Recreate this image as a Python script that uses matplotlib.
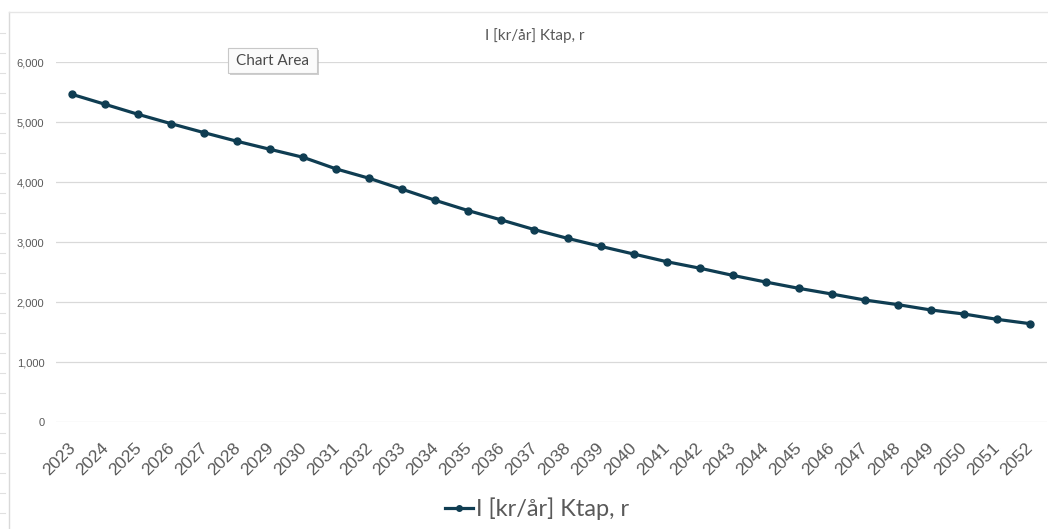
import matplotlib
matplotlib.use("Agg")
import matplotlib.pyplot as plt
import matplotlib.transforms as mtransforms
from matplotlib.patches import Rectangle
from matplotlib.lines import Line2D

years = [str(y) for y in range(2023, 2053)]
values = [5461, 5295, 5128, 4972, 4822, 4678, 4544, 4411, 4217, 4061,
          3878, 3694, 3522, 3367, 3206, 3061, 2928, 2800, 2672, 2564,
          2444, 2333, 2228, 2133, 2033, 1956, 1867, 1800, 1711, 1639]
series_name = "I [kr/år] Ktap, r"
yticks = [0, 1000, 2000, 3000, 4000, 5000, 6000]

W, H = 1048, 529
fig = plt.figure(figsize=(W / 100, H / 100), dpi=100)
fig.patch.set_facecolor("white")

# frame lines (sheet edges)
fig.add_artist(Line2D([9 / W, 9 / W], [0, 1 - 12 / H], transform=fig.transFigure,
                      color="#d9d9d9", lw=1))
fig.add_artist(Line2D([9 / W, 1], [1 - 12 / H, 1 - 12 / H], transform=fig.transFigure,
                      color="#e6e6e6", lw=1))
for yy in range(33, 529, 20):
    fig.add_artist(Line2D([0, 5 / W], [1 - yy / H, 1 - yy / H], transform=fig.transFigure,
                          color="#e0e0e0", lw=0.8))

left, right, top, bottom = 55.5, 1046.5, 62, 422
ax = fig.add_axes([left / W, 1 - bottom / H, (right - left) / W, (bottom - top) / H])
x = list(range(len(years)))
color = "#0f3d52"
ax.plot(x, values, color=color, lw=2.3, marker="o", markersize=5, label=series_name,
        solid_capstyle="round", zorder=3)
ax.set_xlim(-0.5, len(years) - 0.5)
ax.set_ylim(0, 6000)
ax.set_yticks(yticks)
ax.set_yticklabels([f"{v:,}" for v in yticks])
ax.set_xticks(x)
ax.set_xticklabels(years)
ax.tick_params(axis="both", length=0)
ax.tick_params(axis="y", pad=8)
for lbl in ax.get_yticklabels():
    lbl.set_fontsize(8)
    lbl.set_color("#595959")
    lbl.set_family("Liberation Sans")
offset = mtransforms.ScaledTranslation(6 / 100, -13 / 100, fig.dpi_scale_trans)
for lbl in ax.get_xticklabels():
    lbl.set_fontsize(12.5)
    lbl.set_color("#595959")
    lbl.set_family("Liberation Sans")
    lbl.set_rotation(45)
    lbl.set_ha("right")
    lbl.set_va("top")
    lbl.set_transform(lbl.get_transform() + offset)
ax.grid(axis="y", color="#d9d9d9", lw=0.9)
ax.set_axisbelow(True)
for s in ax.spines.values():
    s.set_visible(False)

fig.text(535 / W, 1 - 36 / H, series_name, ha="center", va="center", fontsize=11,
         color="#595959", family="Lato")

# legend
leg = fig.legend(handles=[Line2D([], [], color=color, lw=2.3, marker="o", markersize=4)],
                 labels=[series_name], loc="center", bbox_to_anchor=(537 / W, 1 - 509 / H),
                 frameon=False, handlelength=1.2, handletextpad=0.1,
                 prop={"family": "Lato", "size": 17})
for t in leg.get_texts():
    t.set_color("#595959")

# tooltip
fig.add_artist(Rectangle((230 / W, 1 - 75 / H), 89 / W, 25 / H, transform=fig.transFigure,
                         facecolor="#b0b0b0", edgecolor="none", alpha=0.6))
fig.add_artist(Rectangle((228 / W, 1 - 73 / H), 89 / W, 25 / H, transform=fig.transFigure,
                         facecolor="#fbfbfb", edgecolor="#c8c8c8", lw=0.8))
fig.text(272.5 / W, 1 - 61 / H, "Chart Area", ha="center", va="center", fontsize=11,
         color="#4a4a4a", family="Lato")

fig.savefig("out.png", dpi=100)
